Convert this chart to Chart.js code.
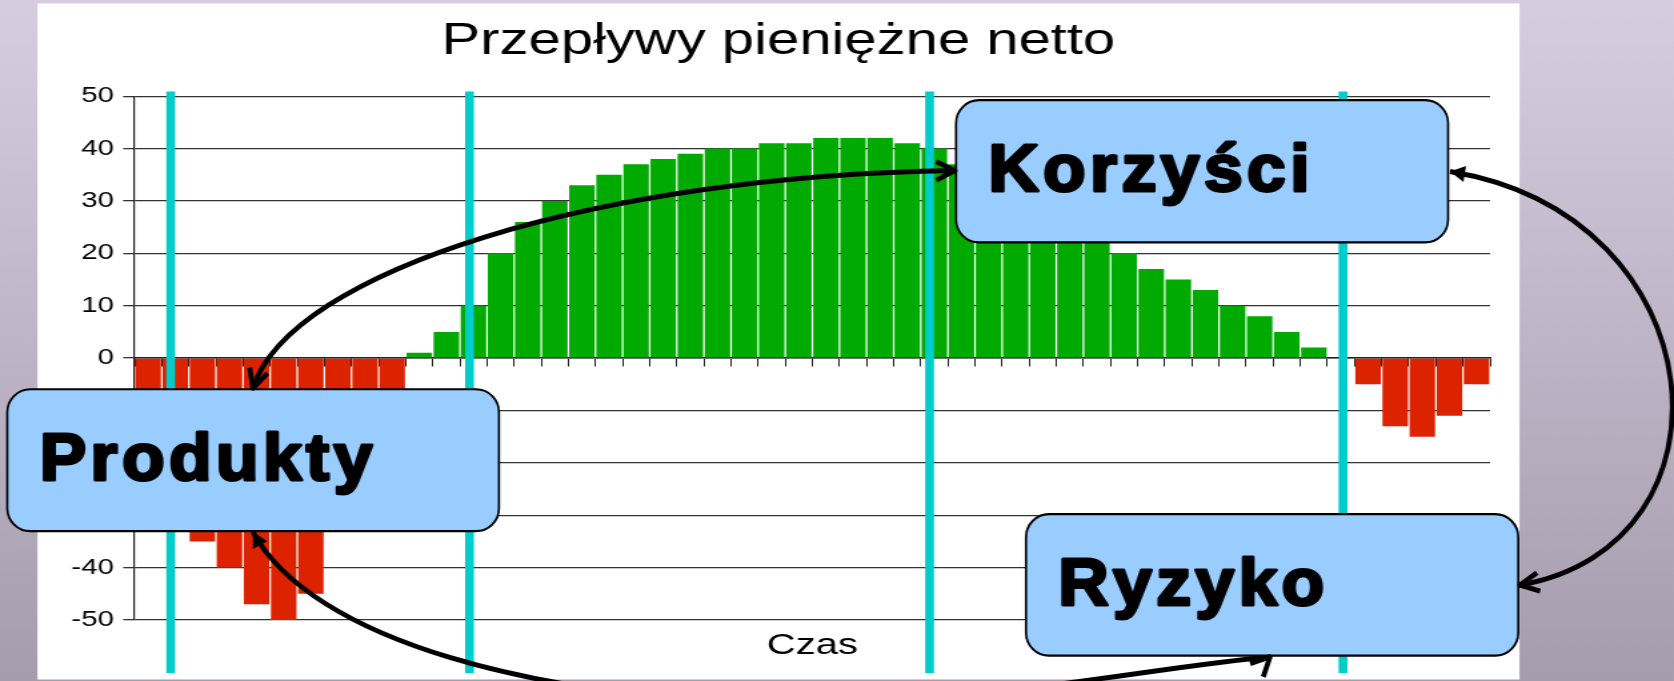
<!DOCTYPE html>
<html lang="pl">
<head>
<meta charset="utf-8">
<title>Przepływy pieniężne netto</title>
<script src="https://cdn.jsdelivr.net/npm/chart.js@4.4.1/dist/chart.umd.min.js"></script>
<style>
  html, body { margin: 0; padding: 0; overflow: hidden; background: #a69dae; }
  #chart { display: block; }
</style>
</head>
<body>
<!-- the slide was a 4:3 chart stretched to a wide screen, so the canvas is drawn narrow and stretched -->
<canvas id="chart" width="1256" height="681" style="width:1674px;height:681px"></canvas>
<script>
// ---- data (bars hidden behind the labels are estimates) ----
const periods = ['1', '2', '3', '4', '5', '6', '7', '8', '9', '10',
                 '11', '12', '13', '14', '15', '16', '17', '18', '19', '20',
                 '21', '22', '23', '24', '25', '26', '27', '28', '29', '30',
                 '31', '32', '33', '34', '35', '36', '37', '38', '39', '40',
                 '41', '42', '43', '44', '45', '46', '47', '48', '49', '50'];
const netFlow = [-10, -20, -35, -40, -47, -50, -45, -30, -20, -10,
                 1, 5, 10, 20, 26, 30, 33, 35, 37, 38,
                 39, 40, 40, 41, 41, 42, 42, 42, 41, 40,
                 37, 35, 33, 30, 27, 24, 20, 17, 15, 13,
                 10, 8, 5, 2, 0, -5, -13, -15, -11, -5];
const yTicks = [-50, -40, -30, -20, -10, 0, 10, 20, 30, 40, 50];

// phase separators, as fractional category positions
const phaseLines = [0.831, 11.853, 28.825, 44.075];
const PHASE_TOP = 50.9, PHASE_BOTTOM = -60.1;

// callouts and links, in (category, value) units
const callouts = [
  { text: 'Produkty', from: [-5.196, -5.95], to: [12.94, -33.04] },
  { text: 'Korzyści', from: [29.80, 49.24], to: [47.95, 22.08] },
  { text: 'Ryzyko',   from: [32.38, -29.79], to: [50.54, -56.81] }
];
const links = [
  { path: [[3.867, -5.76], [5.232, 16.74], [16.667, 34.86], [29.762, 35.81]], heads: ['open', 'open'] },
  { path: [[48.022, 35.62], [57.981, 27.23], [58.904, -35.89], [50.604, -43.33]], heads: ['solid', 'open'] },
  { path: [[3.867, -33.22], [5.992, -53.36], [14.085, -66.06], [25.151, -66.06],
           [31.422, -65.26], [37.693, -58.58], [41.382, -57.05]], heads: ['solid', 'open'], endDir: [1, -1] }
];

const STRETCH = 1674 / 1256;
const RED = '#dd2200', GREEN = '#00aa00', CYAN = '#00cccc', BOX = '#99ccff';
const FONT = '"Liberation Sans", Arial, sans-serif';

// slide background + white chart panel
const backdrop = {
  id: 'backdrop',
  beforeDraw(chart) {
    const { ctx, width, height } = chart;
    const g = ctx.createLinearGradient(0, 0, 0, height);
    g.addColorStop(0, '#d6cde1');
    g.addColorStop(1, '#a59cad');
    ctx.save();
    ctx.fillStyle = g;
    ctx.fillRect(0, 0, width, height);
    ctx.fillStyle = '#fff';
    ctx.fillRect(28.1, 3.5, 1112, 676);
    ctx.restore();
  }
};

function roundBox(ctx, x, y, w, h, r) {
  ctx.beginPath();
  ctx.moveTo(x + r, y);
  ctx.arcTo(x + w, y, x + w, y + h, r);
  ctx.arcTo(x + w, y + h, x, y + h, r);
  ctx.arcTo(x, y + h, x, y, r);
  ctx.arcTo(x, y, x + w, y, r);
  ctx.closePath();
}

function head(ctx, tip, dx, dy, kind) {
  const a = Math.atan2(dy, dx);
  const len = kind === 'solid' ? 17 : 21;
  const spread = kind === 'solid' ? 0.5 : 0.46;
  ctx.beginPath();
  ctx.moveTo(tip[0] - len * Math.cos(a - spread), tip[1] - len * Math.sin(a - spread));
  ctx.lineTo(tip[0], tip[1]);
  ctx.lineTo(tip[0] - len * Math.cos(a + spread), tip[1] - len * Math.sin(a + spread));
  if (kind === 'solid') { ctx.closePath(); ctx.fill(); } else { ctx.stroke(); }
}

// cyan phase lines, callout boxes and curved links on top of the chart
const overlay = {
  id: 'overlay',
  afterDraw(chart) {
    const { ctx, scales: { x, y } } = chart;
    const px = i => x.getPixelForValue(i) * STRETCH;
    const py = v => y.getPixelForValue(v);
    ctx.save();
    ctx.scale(1 / STRETCH, 1); // draw these in unstretched page pixels

    ctx.strokeStyle = CYAN;
    ctx.lineWidth = 8.8;
    phaseLines.forEach(i => {
      ctx.beginPath();
      ctx.moveTo(px(i), py(PHASE_TOP));
      ctx.lineTo(px(i), py(PHASE_BOTTOM));
      ctx.stroke();
    });

    callouts.forEach(c => {
      const x0 = px(c.from[0]), y0 = py(c.from[1]);
      const x1 = px(c.to[0]), y1 = py(c.to[1]);
      roundBox(ctx, x0, y0, x1 - x0, y1 - y0, 23);
      ctx.fillStyle = BOX;
      ctx.fill();
      ctx.lineWidth = 2.2;
      ctx.strokeStyle = '#000';
      ctx.stroke();
      // heavy label: bold face thickened with a thin outline, letters spaced out a little
      ctx.save();
      ctx.translate(x0 + 32.2, y0 + 91.1);
      ctx.scale(1.06, 1);
      ctx.font = 'bold 66px ' + FONT;
      if ('letterSpacing' in ctx) ctx.letterSpacing = '4px';
      ctx.fillStyle = '#000';
      ctx.strokeStyle = '#000';
      ctx.lineWidth = 3;
      ctx.lineJoin = 'round';
      ctx.textBaseline = 'alphabetic';
      ctx.fillText(c.text, 0, 0);
      ctx.strokeText(c.text, 0, 0);
      ctx.restore();
    });

    ctx.strokeStyle = '#000';
    ctx.fillStyle = '#000';
    ctx.lineWidth = 5;
    ctx.lineJoin = 'round';
    links.forEach(l => {
      const p = l.path.map(([i, v]) => [px(i), py(v)]);
      ctx.beginPath();
      ctx.moveTo(p[0][0], p[0][1]);
      for (let k = 1; k + 2 < p.length; k += 3) {
        ctx.bezierCurveTo(p[k][0], p[k][1], p[k + 1][0], p[k + 1][1], p[k + 2][0], p[k + 2][1]);
      }
      ctx.stroke();
      const n = p.length - 1;
      head(ctx, p[0], p[0][0] - p[1][0], p[0][1] - p[1][1], l.heads[0]);
      const d = l.endDir || [p[n][0] - p[n - 1][0], p[n][1] - p[n - 1][1]];
      head(ctx, p[n], d[0], d[1], l.heads[1]);
    });
    ctx.restore();
  }
};

const ctx = document.getElementById('chart').getContext('2d');

new Chart(ctx, {
  type: 'bar',
  data: {
    labels: periods,
    datasets: [{
      data: netFlow,
      backgroundColor: netFlow.map(v => v < 0 ? RED : GREEN),
      borderWidth: 0,
      barPercentage: 1,
      categoryPercentage: 0.94
    }]
  },
  options: {
    responsive: false,
    devicePixelRatio: 1,
    animation: false,
    layout: { padding: { left: 28, right: 116, top: 0, bottom: 0 } },
    plugins: {
      legend: { display: false },
      tooltip: { enabled: false },
      title: {
        display: true,
        text: 'Przepływy pieniężne netto',
        color: '#000',
        font: { family: FONT, size: 43.5, weight: 'normal' },
        padding: { top: 16, bottom: 28 }
      }
    },
    scales: {
      x: {
        type: 'category',
        position: { y: 0 },
        z: 1,
        ticks: { display: false },
        grid: { drawOnChartArea: false, drawTicks: true, tickLength: 8, color: '#222', lineWidth: 1 },
        border: { display: true, color: '#222', width: 1.5 }
      },
      x2: {
        type: 'category',
        position: 'bottom',
        ticks: { display: false },
        grid: { display: false },
        border: { display: false },
        title: {
          display: true,
          text: 'Czas',
          color: '#000',
          font: { family: FONT, size: 30 },
          padding: { top: 0, bottom: 17 }
        },
        afterFit(s) { s.height = 61; }
      },
      y: {
        min: yTicks[0],
        max: yTicks[yTicks.length - 1],
        afterBuildTicks(s) { s.ticks = yTicks.map(v => ({ value: v })); },
        ticks: { color: '#000', font: { family: FONT, size: 22 }, padding: 7 },
        grid: { color: '#333', lineWidth: 1.3, tickLength: 8.6 },
        border: { display: true, color: '#222', width: 1.2 },
        afterFit(s) { s.width = 73; }
      },
      y2: {
        type: 'linear',
        position: 'right',
        ticks: { display: false },
        grid: { display: false },
        border: { display: false },
        afterFit(s) { s.width = 22; }
      }
    }
  },
  plugins: [backdrop, overlay]
});
</script>
</body>
</html>
